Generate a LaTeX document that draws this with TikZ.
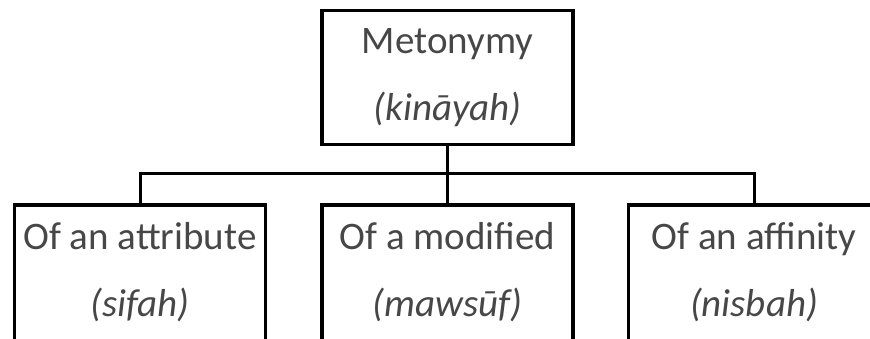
\documentclass[tikz,border=0pt]{standalone}
\usepackage{fontspec}
\setmainfont{Carlito}
\usepackage{tikz}
\usetikzlibrary{positioning}

\begin{document}
\begin{tikzpicture}[x=1pt,y=-1pt,
        kind/.style={draw, rectangle, line width=3.4pt, minimum width=251pt, minimum height=134pt,
            align=center, text=black!72, font=\fontsize{39}{67}\selectfont},
        sub/.style={kind, anchor=north, minimum height=0pt, inner ysep=0pt,
            text height=111pt, text depth=60pt},
        link/.style={line width=3pt}]
        \useasboundingbox (0,0) rectangle (870,339);
        \clip (0,0) rectangle (870,339);
        \node[kind] (kinayah) at (447.5,77.5) {Metonymy\\\textit{(kināyah)}};
        \node[sub] (sifah) at (140,203.5) {Of an attribute\\\textit{(sifah)}};
        \node[sub] (mawsuf) at (447.5,203.5) {Of a modified\\\textit{(mawsūf)}};
        \node[sub] (nisbah) at (754,203.5) {Of an affinity\\\textit{(nisbah)}};
        \coordinate (fork) at (447.5,174);
        
        \draw[link] (kinayah) -- (fork);
        \draw[link] (fork) -| (sifah.north);
        \draw[link] (fork) -- (mawsuf.north);
        \draw[link] (fork) -| (nisbah.north);
    \end{tikzpicture}
\end{document}
